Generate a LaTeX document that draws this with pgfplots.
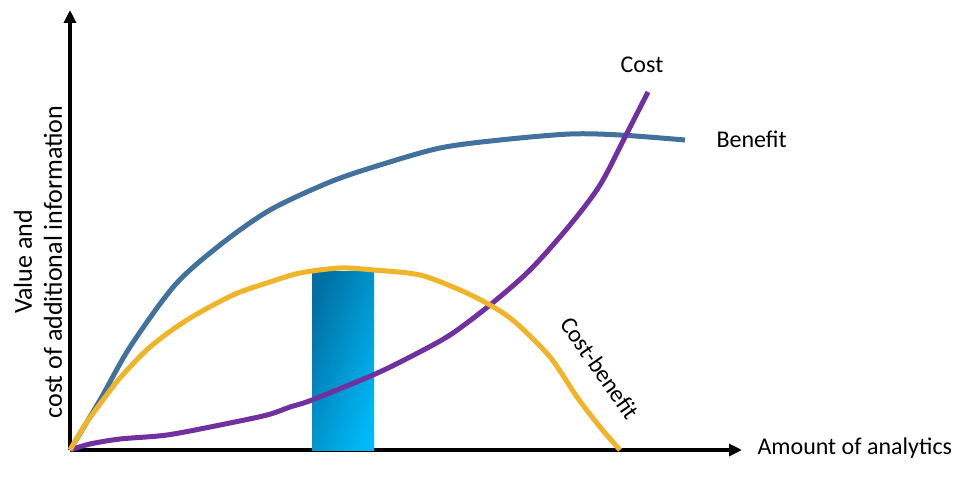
\documentclass[border=0pt]{standalone}
\usepackage{pgfplots}
\pgfplotsset{compat=1.18}
\usepackage{fontspec}
\setmainfont{Carlito}
\usetikzlibrary{arrows.meta}
\definecolor{cben}{HTML}{41719C}
\definecolor{ccost}{HTML}{7030A0}
\definecolor{ccb}{HTML}{F0B428}
\definecolor{rdark}{HTML}{0070A4}
\definecolor{rlight}{HTML}{00B8F6}
\begin{document}
\begin{tikzpicture}
\begin{axis}[
  x=1pt, y=1pt,
  xmin=70, xmax=742, ymin=0, ymax=440,
  axis lines=left,
  axis line style={line width=3.5pt, -{Triangle[length=13pt,width=12pt]}},
  xtick=\empty, ytick=\empty,
  clip=false,
  font=\fontsize{24}{28}\selectfont,
]
\path (axis cs:0,-29) rectangle (axis cs:965,450);
\addplot[draw=none, left color=rdark, right color=rlight, shading angle=70] coordinates {(312,0) (312,178) (374,178) (374,0)} -- cycle;
\addplot[cben, line width=5pt, smooth, tension=0.5] coordinates {
(70,0)(100,50)(130,103)(175,165)(220,205)(270,240)(330,268)(380,285)(440,302)(500,310)(570,316)(620,315)(685,310)};
\addplot[ccost, line width=5pt, smooth, tension=0.5] coordinates {
(70,0)(90,6)(120,11)(167,15)(220,25)(267,35)(290,43)(312,50)(373,75)(410,93)(450,115)(490,145)(530,180)(570,225)(600,265)(625,313)(648,358)};
\addplot[ccb, line width=5pt, smooth, tension=0.5] coordinates {
(70,0)(85,25)(100,46)(120,72)(150,103)(187,130)(233,155)(270,168)(300,177)(340,182)(374,180)(420,175)(460,160)(490,145)(515,128)(550,93)(577,53)(600,23)(620,0)};
\node at (axis cs:642,385) {Cost};
\node[anchor=west] at (axis cs:713,311) {Benefit};
\node[rotate=-55] at (axis cs:600,82) {Cost-benefit};
\node[anchor=west] at (axis cs:754,2) {Amount of analytics};
\node[rotate=90, align=center, inner sep=0pt, font=\fontsize{26}{30}\selectfont] at (axis cs:38,188) {Value and\\cost of additional information};
\end{axis}
\end{tikzpicture}
\end{document}
